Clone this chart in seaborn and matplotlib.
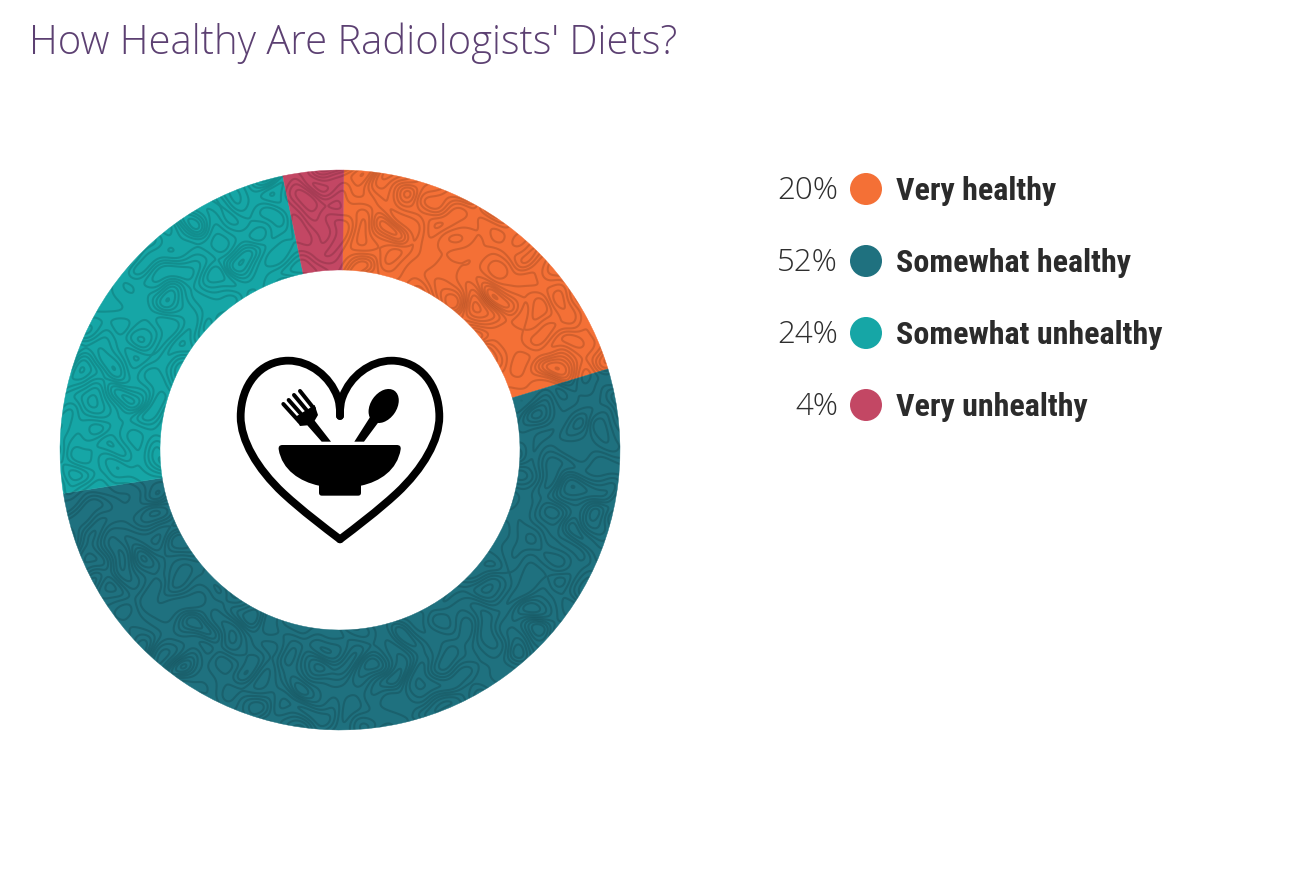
import numpy as np
import pandas as pd
import matplotlib
matplotlib.use("Agg")
import matplotlib.pyplot as plt
from matplotlib.patches import Wedge, PathPatch, Ellipse, Polygon
from matplotlib.path import Path
from matplotlib import font_manager as fm
import seaborn as sns

categories = ["Very healthy", "Somewhat healthy", "Somewhat unhealthy", "Very unhealthy"]
labels = [20, 52, 24, 4]
shares = [20.1, 52.2, 24.2, 3.5]
colors = ["#F47036", "#1F717F", "#16A6A6", "#C34764"]
title = "How Healthy Are Radiologists' Diets?"

sns.set_theme(style="white")
avail = {f.name for f in fm.fontManager.ttflist}
narrow = "Roboto Condensed" if "Roboto Condensed" in avail else ("Liberation Sans Narrow" if "Liberation Sans Narrow" in avail else "Roboto")
light = ["Open Sans", "DejaVu Sans"]
plt.rcParams["font.family"] = light

W, H = 1290, 878
fig = plt.figure(figsize=(W / 100, H / 100), dpi=100, facecolor="white")

# ---- ring
ax = fig.add_axes([60 / W, (H - 731) / H, 560 / W, 560 / H])
palette = sns.color_palette(colors)
wedges, _ = ax.pie(shares, colors=palette, startangle=89.2, counterclock=False, radius=1,
                   wedgeprops=dict(width=100 / 280, linewidth=0))
for w in wedges:
    w.set_edgecolor(w.get_facecolor())
    w.set_linewidth(0.3)

# organic contour texture over the ring (decorative, deterministic)
gx, gy = np.meshgrid(np.linspace(-1.02, 1.02, 900), np.linspace(-1.02, 1.02, 900))
wx = gx + 0.018 * np.sin(21.3 * gy + 1.1) + 0.009 * np.sin(37.1 * gy - 23.0 * gx + 0.4)
wy = gy + 0.018 * np.sin(19.1 * gx + 2.3) + 0.009 * np.cos(35.7 * gx + 27.0 * gy + 1.9)
field = np.zeros_like(gx)
for i in range(13):
    ang = i * 2.39996
    k = 27 + 3.9 * (i % 7)
    field += np.sin(k * (np.cos(ang) * wx + np.sin(ang) * wy) + 1.7 * i)
cs = ax.contour(gx, gy, field, levels=np.arange(-9.0, 9.1, 1.8), colors="black",
                linewidths=1.5, linestyles="solid", alpha=0.14)
clip = Wedge((0, 0), 1, 0, 360, width=100 / 280, transform=ax.transData)
cs.set_clip_path(clip)
ax.set_xlim(-1, 1)
ax.set_ylim(-1, 1)
ax.set_aspect("equal")
ax.axis("off")

# ---- overlay in pixel coordinates
ov = fig.add_axes([0, 0, 1, 1], facecolor="none")
ov.set_xlim(0, W)
ov.set_ylim(H - 1, -1)
ov.axis("off")

ov.text(29, 53, title, fontsize=28.8, color="#5C4072", fontweight="light",
        ha="left", va="baseline", family=light)

# legend: dots via seaborn
rows = pd.DataFrame({"x": [866] * 4, "y": [189, 261, 333, 405], "cat": categories})
sns.scatterplot(data=rows, x="x", y="y", hue="cat", hue_order=categories, palette=palette,
                s=(32 * 0.72) ** 2, linewidth=0, legend=False, ax=ov, zorder=3)
ov.set_xlim(0, W)
ov.set_ylim(H - 1, -1)
ov.axis("off")
for v, c, y in zip(labels, categories, rows["y"]):
    ov.text(838, y + 9.5, f"{v}%", fontsize=22.5, color="#2E2E2E", fontweight="light",
            ha="right", va="baseline", family=light)
    ov.text(896, y + 10, c, fontsize=23, color="#2B2B2B", fontweight="bold",
            ha="left", va="baseline", family=[narrow, "DejaVu Sans"])


# ---- centre icon: coordinates are from a 3x crop at (220, 340)
def P(x, y):
    return (220 + x / 3, 340 + y / 3)


def bez(verts, **kw):
    codes = [Path.MOVETO] + [Path.CURVE4] * (len(verts) - 1)
    p = Path([P(*v) for v in verts], codes)
    ov.add_patch(PathPatch(p, **kw))


stroke = dict(facecolor="none", edgecolor="black", linewidth=5.6, capstyle="round", joinstyle="round")
left = [(360, 598), (310, 560), (250, 515), (190, 460),
        (110, 385), (62, 300), (62, 230),
        (62, 135), (120, 62), (205, 62),
        (270, 62), (330, 110), (352, 170),
        (358, 185), (360, 200), (360, 228)]
bez(left, **stroke)
bez([(720 - x, y) for x, y in left], **stroke)

bowl = [(188, 315), (178, 315), (175, 320), (176, 328),
        (186, 390), (240, 425), (297, 437),
        (297, 445), (297, 452), (297, 458),
        (297, 464), (300, 467), (306, 467),
        (345, 467), (375, 467), (414, 467),
        (420, 467), (423, 464), (423, 458),
        (423, 452), (423, 445), (423, 437),
        (480, 425), (532, 390), (542, 328),
        (543, 320), (540, 315), (530, 315),
        (420, 315), (300, 315), (188, 315)]
bez(bowl, facecolor="black", edgecolor="none")

for a, b in [((190, 192), (238, 245)), ((206, 180), (252, 232)),
             ((222, 165), (266, 218)), ((240, 153), (282, 206))]:
    ov.plot(*zip(P(*a), P(*b)), color="black", lw=2.9, solid_capstyle="round")
ov.add_patch(Polygon([P(*q) for q in [(224, 232), (284, 195), (294, 225), (284, 242),
                                      (333, 305), (305, 305), (262, 256), (240, 258)]],
                     facecolor="black", edgecolor="none"))
ov.add_patch(Ellipse(P(491, 198), 112 / 3, 78 / 3, angle=-55, facecolor="black", edgecolor="none"))
ov.add_patch(Polygon([P(*q) for q in [(403, 305), (432, 305), (484, 235), (456, 222)]],
                     facecolor="black", edgecolor="none"))
ov.set_xlim(0, W)
ov.set_ylim(H - 1, -1)

fig.savefig("out.png", dpi=100, facecolor="white")
